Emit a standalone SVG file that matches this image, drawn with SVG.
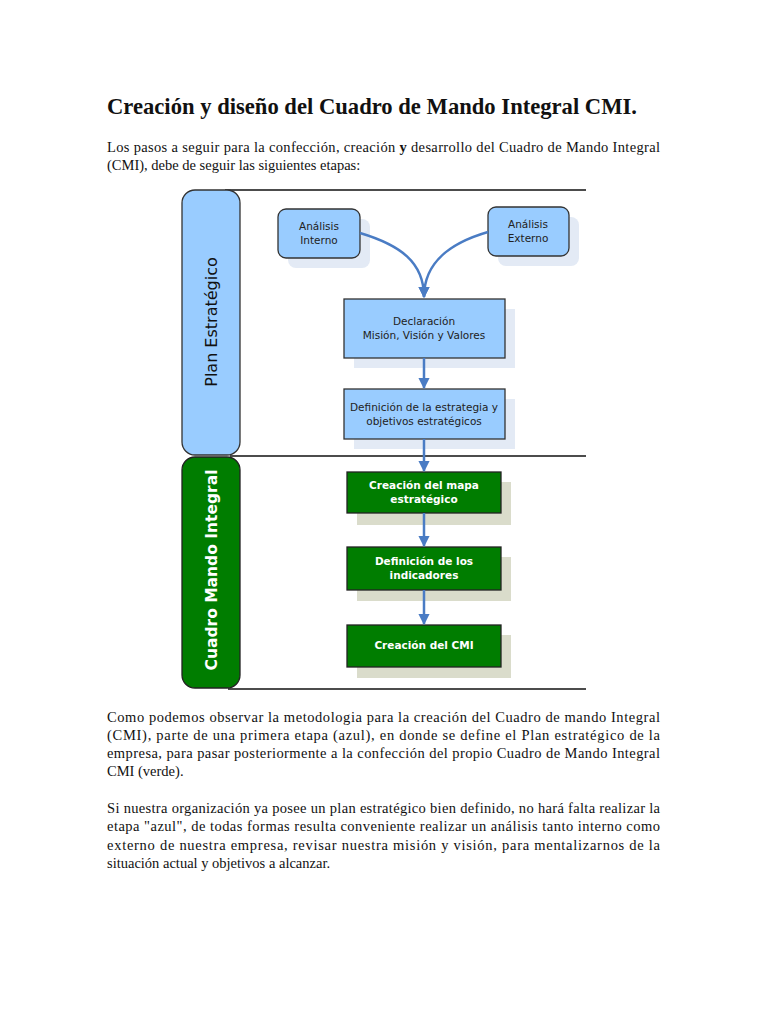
<svg xmlns="http://www.w3.org/2000/svg" width="768" height="1024" viewBox="0 0 768 1024">
<defs>
<style>
.ser{font-family:"Liberation Serif","Times New Roman",serif;font-size:14.5px;fill:#111}
.ttl{font-family:"Liberation Serif","Times New Roman",serif;font-size:22.5px;font-weight:bold;fill:#111}
.bl{fill:#99ccff;stroke:#333;stroke-width:1.3}
.gr{fill:#007d00;stroke:#222;stroke-width:1.3}
.bs{fill:#e3eaf5}
.gs{fill:#dadccb}
.bt{font-family:"DejaVu Sans",Verdana,sans-serif;font-size:10.5px;fill:#222;text-anchor:middle}
.gt{font-family:"DejaVu Sans",Verdana,sans-serif;font-size:10.5px;font-weight:bold;fill:#fff;text-anchor:middle}
.con{fill:none;stroke:#4a7cc4;stroke-width:2.5}
.sep{stroke:#111;stroke-width:1.5}
</style>
<marker id="ah" viewBox="0 0 10 10" refX="9" refY="5" markerWidth="4.5" markerHeight="4.5" orient="auto" markerUnits="strokeWidth">
<path d="M0,0 L10,5 L0,10 z" fill="#4a7cc4"/>
</marker>
</defs>
<rect width="768" height="1024" fill="#fff"/>
<text class="ttl" x="107" y="114" textLength="530" lengthAdjust="spacingAndGlyphs">Creación y diseño del Cuadro de Mando Integral CMI.</text>
<text class="ser" x="107" y="152" textLength="553" lengthAdjust="spacing">Los pasos a seguir para la confección, creación <tspan font-weight="bold">y</tspan> desarrollo del Cuadro de Mando Integral</text>
<text class="ser" x="107" y="170">(CMI), debe de seguir las siguientes etapas:</text>

<g id="lines">
<line class="sep" x1="225" y1="190" x2="586" y2="190" stroke-width="1.2"/>
<line class="sep" x1="230" y1="456" x2="586" y2="456" stroke-width="2"/>
<line class="sep" x1="228" y1="689" x2="586" y2="689" stroke-width="1.2"/>
</g>

<g id="plan-estrategico">
<rect class="bl" x="182" y="190" width="58" height="265" rx="13"/>
<text transform="translate(217,322) rotate(-90)" font-family="DejaVu Sans,Verdana,sans-serif" font-size="16" fill="#111" text-anchor="middle">Plan Estratégico</text>
</g>
<g id="cuadro-mando-integral">
<rect class="gr" x="182" y="457" width="58" height="231" rx="13"/>
<text transform="translate(217,570) rotate(-90)" font-family="DejaVu Sans,Verdana,sans-serif" font-size="15.5" font-weight="bold" fill="#fff" text-anchor="middle">Cuadro Mando Integral</text>
</g>

<g id="analisis-interno">
<rect class="bs" x="288" y="219" width="82" height="49" rx="8"/>
<rect class="bl" x="278" y="209" width="82" height="49" rx="8"/>
<text class="bt" x="319" y="230">Análisis</text>
<text class="bt" x="319" y="244">Interno</text>
</g>
<g id="analisis-externo">
<rect class="bs" x="498" y="217" width="81" height="49" rx="8"/>
<rect class="bl" x="488" y="207" width="81" height="49" rx="8"/>
<text class="bt" x="528" y="228">Análisis</text>
<text class="bt" x="528" y="242">Externo</text>
</g>
<g id="declaracion">
<rect class="bs" x="354" y="309" width="161" height="59"/>
<rect class="bl" x="344" y="299" width="161" height="59"/>
<text class="bt" x="424" y="325">Declaración</text>
<text class="bt" x="424" y="339">Misión, Visión y Valores</text>
</g>
<g id="definicion-estrategia">
<rect class="bs" x="354" y="399" width="161" height="50"/>
<rect class="bl" x="344" y="389" width="161" height="50"/>
<text class="bt" x="424" y="411">Definición de la estrategia y</text>
<text class="bt" x="424" y="425">objetivos estratégicos</text>
</g>
<g id="creacion-mapa">
<rect class="gs" x="357" y="482" width="154" height="43"/>
<rect class="gr" x="347" y="472" width="154" height="41"/>
<text class="gt" x="424" y="489">Creación del mapa</text>
<text class="gt" x="424" y="503">estratégico</text>
</g>
<g id="definicion-indicadores">
<rect class="gs" x="357" y="557" width="154" height="44"/>
<rect class="gr" x="347" y="547" width="154" height="43"/>
<text class="gt" x="424" y="565">Definición de los</text>
<text class="gt" x="424" y="579">indicadores</text>
</g>
<g id="creacion-cmi">
<rect class="gs" x="357" y="635" width="154" height="43"/>
<rect class="gr" x="347" y="625" width="154" height="42"/>
<text class="gt" x="424" y="649">Creación del CMI</text>
</g>

<g id="connectors">
<path class="con" d="M360,233 C400,245 424,262 424,297" marker-end="url(#ah)"/>
<path class="con" d="M488,232 C450,243 424,262 424,297" marker-end="url(#ah)"/>
<line class="con" x1="424" y1="358" x2="424" y2="388" marker-end="url(#ah)"/>
<line class="con" x1="424" y1="439" x2="424" y2="471" marker-end="url(#ah)"/>
<line class="con" x1="424" y1="513" x2="424" y2="546" marker-end="url(#ah)"/>
<line class="con" x1="424" y1="590" x2="424" y2="624" marker-end="url(#ah)"/>
</g>

<text class="ser" x="107" y="722" textLength="553" lengthAdjust="spacing">Como podemos observar la metodologia para la creación del Cuadro de mando Integral</text>
<text class="ser" x="107" y="740" textLength="553" lengthAdjust="spacing">(CMI), parte de una primera etapa (azul), en donde se define el Plan estratégico de la</text>
<text class="ser" x="107" y="758" textLength="553" lengthAdjust="spacing">empresa, para pasar posteriormente a la confección del propio Cuadro de Mando Integral</text>
<text class="ser" x="107" y="776">CMI (verde).</text>
<text class="ser" x="107" y="813" textLength="553" lengthAdjust="spacing">Si nuestra organización ya posee un plan estratégico bien definido, no hará falta realizar la</text>
<text class="ser" x="107" y="831" textLength="553" lengthAdjust="spacing">etapa "azul", de todas formas resulta conveniente realizar un análisis tanto interno como</text>
<text class="ser" x="107" y="850" textLength="553" lengthAdjust="spacing">externo de nuestra empresa, revisar nuestra misión y visión, para mentalizarnos de la</text>
<text class="ser" x="107" y="868">situación actual y objetivos a alcanzar.</text>
</svg>
